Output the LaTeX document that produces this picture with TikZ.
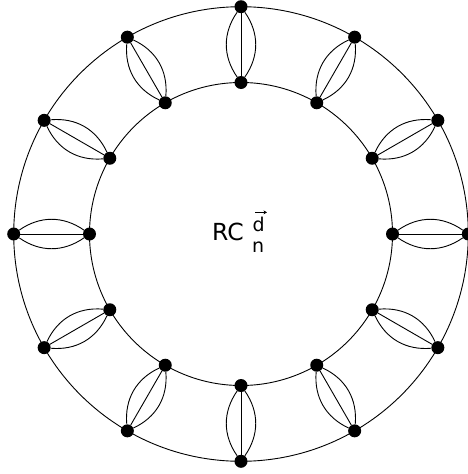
\documentclass[tikz,border=0pt]{standalone}
\usepackage{fontspec}
\setmainfont{DejaVu Sans}
\usetikzlibrary{calc,arrows.meta}
\begin{document}
\begin{tikzpicture}[x=1pt,y=-1pt,
  dot/.style={circle,fill=black,inner sep=0pt,minimum size=13pt},
  ring/.style={line width=0.9pt},
  link/.style={line width=0.9pt},
  lbltext/.style={inner sep=0pt,font=\fontsize{23.5}{28}\selectfont},
  scripttext/.style={inner sep=0pt,font=\fontsize{19}{23}\selectfont}]
\useasboundingbox (0,0) rectangle (467,474);
\coordinate (c) at (241,234);
\draw[ring] (c) circle[radius=227.3];
\draw[ring] (c) circle[radius=151.5];
\foreach \i in {0,...,11} {
  \pgfmathsetmacro\a{90+30*\i}
  \node[dot] (o\i) at ($(c)+(\a:227.3)$) {};
  \node[dot] (n\i) at ($(c)+(\a:151.5)$) {};
  \draw[link] (n\i) -- (o\i);
  \draw[link] (n\i) to[bend left=35] (o\i);
  \draw[link] (n\i) to[bend right=35] (o\i);
}
\node[lbltext,anchor=base west] (rc) at (212,240.5) {RC};
\node[scripttext,anchor=base west] (sup) at (252.5,231) {d};
\node[scripttext,anchor=base west] (sub) at (252,252) {n};
\draw[line width=0.8pt,-{Stealth[length=3.5pt,width=4pt]}]
  ([xshift=2.5pt,yshift=4pt]sup.north west) -- ([xshift=2pt,yshift=4pt]sup.north east);
\end{tikzpicture}
\end{document}
